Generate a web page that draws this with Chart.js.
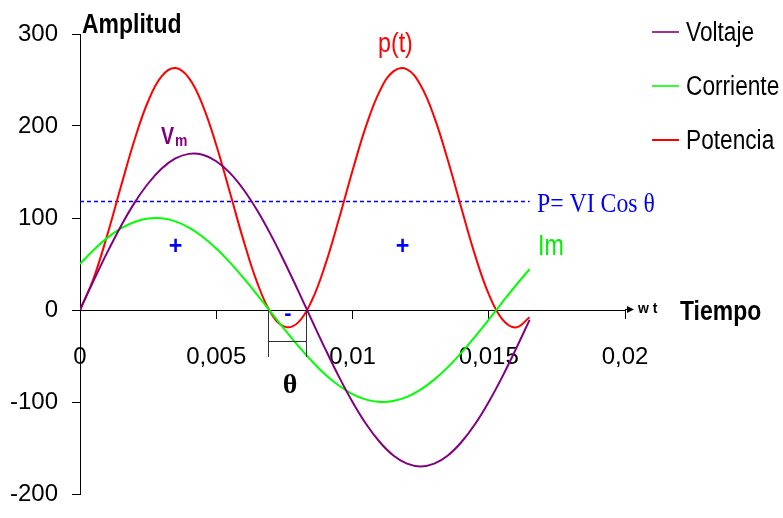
<!DOCTYPE html>
<html lang="es">
<head>
<meta charset="UTF-8">
<title>Voltaje, Corriente y Potencia</title>
<script src="https://cdn.jsdelivr.net/npm/chart.js"></script>
<style>
  html, body { margin: 0; padding: 0; background: #fff; }
  .chart-box { width: 783px; height: 518px; }
</style>
</head>
<body>
<div class="chart-box"><canvas id="ondas" width="783" height="518"></canvas></div>
<script>
// valores (paso de 0,0005 s)
const tiempo = [0, 0.0005, 0.001, 0.0015, 0.002, 0.0025, 0.003, 0.0035, 0.004, 0.0045,
  0.005, 0.0055, 0.006, 0.0065, 0.007, 0.0075, 0.008, 0.0085, 0.009, 0.0095,
  0.01, 0.0105, 0.011, 0.0115, 0.012, 0.0125, 0.013, 0.0135, 0.014, 0.0145,
  0.015, 0.0155, 0.016, 0.0165];
const voltaje = [0, 31.9, 62.6, 91.1, 116.4, 137.5, 153.8, 164.7, 169.7, 168.7,
  161.7, 149.0, 131.0, 108.4, 81.9, 52.5, 21.3, -10.7, -42.3, -72.4,
  -99.9, -123.9, -143.5, -158.1, -167.0, -170, -167.0, -158.1, -143.5, -123.9,
  -99.9, -72.4, -42.3, -10.7];
const corriente = [50, 65.3, 78.4, 88.6, 95.7, 99.5, 99.6, 96.3, 89.6, 79.6,
  66.9, 51.8, 34.9, 16.7, -2.1, -20.8, -38.8, -55.3, -70.0, -82.1,
  -91.4, -97.4, -99.9, -98.9, -94.4, -86.6, -75.7, -62.1, -46.3, -28.9,
  -10.5, 8.4, 26.9, 44.5];
const potencia = [0, 34.5, 81.4, 133.9, 184.8, 226.9, 254.3, 263.1, 252.1, 222.8,
  179.4, 128.0, 75.7, 30.0, -2.9, -18.1, -13.7, 9.8, 49.1, 98.6,
  151.4, 200.1, 237.9, 259.4, 261.6, 244.2, 209.7, 162.8, 110.3, 59.4,
  17.3, -10.1, -18.9, -7.9];
const potenciaMedia = 118;          // P = VI cos θ
const tiempoFinMedia = 0.0165;
const ceroCorriente = 0.0069;       // cruces usados para marcar θ
const ceroVoltaje = 0.0083;

const series = ['Voltaje', 'Corriente', 'Potencia'];
const colores = ['#800080', '#00ff00', '#ff0000'];
const coloresLeyenda = ['#993399', '#33ff33', '#ff0000'];

const xTicks = [0, 0.005, 0.01, 0.015, 0.02];
const xTickLabels = ['0', '0,005', '0,01', '0,015', '0,02'];
const yMin = -200, yMax = 300, yStep = 100;

const SANS = "'Liberation Sans', Arial, sans-serif";
const SERIF = "'Liberation Serif', 'Times New Roman', serif";

function puntos(ys) {
  return tiempo.map((t, i) => ({ x: t, y: ys[i] }));
}

const datasets = [voltaje, corriente, potencia].map((ys, i) => ({
  label: series[i],
  data: puntos(ys),
  borderColor: colores[i],
  borderWidth: 2,
  pointRadius: 0,
  tension: 0.4,
  fill: false
}));

datasets.push({
  label: 'P= VI Cos θ',
  data: [{ x: 0, y: potenciaMedia }, { x: tiempoFinMedia, y: potenciaMedia }],
  borderColor: '#0000ff',
  borderWidth: 1.5,
  borderDash: [4, 3],
  pointRadius: 0,
  tension: 0
});

// leyenda, flecha del eje y textos del dibujo
const extras = {
  id: 'extras',
  afterDraw(chart) {
    const ctx = chart.ctx;
    const sx = chart.scales.x, sy = chart.scales.y;
    const y0 = sy.getPixelForValue(0);
    ctx.save();

    // texto estrecho (el original usa una fuente condensada)
    function texto(t, x, y, font, color, align, escala) {
      ctx.save();
      ctx.translate(x, y);
      ctx.scale(escala || 0.82, 1);
      ctx.font = font;
      ctx.fillStyle = color;
      ctx.textAlign = align || 'left';
      ctx.textBaseline = 'alphabetic';
      ctx.fillText(t, 0, 0);
      ctx.restore();
    }

    // prolongacion del eje x con flecha
    ctx.strokeStyle = '#000';
    ctx.lineWidth = 1;
    ctx.beginPath();
    ctx.moveTo(chart.chartArea.right, y0 - 0.5);
    ctx.lineTo(chart.chartArea.right + 6, y0 - 0.5);
    ctx.stroke();
    ctx.fillStyle = '#000';
    ctx.beginPath();
    ctx.moveTo(chart.chartArea.right + 9, y0 - 0.5);
    ctx.lineTo(chart.chartArea.right + 2, y0 - 4);
    ctx.lineTo(chart.chartArea.right + 2, y0 + 3);
    ctx.closePath();
    ctx.fill();

    // leyenda
    series.forEach((s, i) => {
      const ly = 32 + i * 54;
      ctx.strokeStyle = coloresLeyenda[i];
      ctx.lineWidth = 2;
      ctx.beginPath();
      ctx.moveTo(652, ly);
      ctx.lineTo(679, ly);
      ctx.stroke();
      texto(s, 686, ly + 9, '27px ' + SANS, '#000', 'left', 0.84);
    });

    texto('Amplitud', 82, 33, 'bold 28px ' + SANS, '#000');
    texto('Tiempo', 680, 320, 'bold 27px ' + SANS, '#000', 'left', 0.85);
    texto('w t', 638, 313, 'bold 14px ' + SANS, '#000', 'left', 1);
    texto('p(t)', 378, 52, '28px ' + SANS, '#ff0000', 'left', 0.83);
    texto('V', 161, 144, 'bold 24px ' + SANS, '#800080');
    texto('m', 175, 146, 'bold 17px ' + SANS, '#800080');
    texto('Im', 538, 255, '29px ' + SANS, '#00ee00', 'left', 0.8);
    texto('+', 175.5, 254, 'bold 26px ' + SANS, '#0000ff', 'center', 0.9);
    texto('+', 402.5, 254, 'bold 26px ' + SANS, '#0000ff', 'center', 0.9);
    texto('-', 288, 320, 'bold 22px ' + SANS, '#0000ff', 'center', 1);
    texto('θ', 290, 393, 'bold 28px ' + SERIF, '#000', 'center', 1);
    texto('P= VI Cos θ', 537, 212, '27px ' + SERIF, '#0000ff', 'left', 0.88);

    // corchete del angulo θ
    const xa = Math.round(sx.getPixelForValue(ceroCorriente)) + 0.5;
    const xb = Math.round(sx.getPixelForValue(ceroVoltaje)) + 0.5;
    ctx.strokeStyle = '#333';
    ctx.lineWidth = 1;
    ctx.beginPath();
    ctx.moveTo(xa, y0);
    ctx.lineTo(xa, y0 + 47);
    ctx.moveTo(xb, y0);
    ctx.lineTo(xb, y0 + 47);
    ctx.moveTo(xa, y0 + 31.5);
    ctx.lineTo(xb, y0 + 31.5);
    ctx.stroke();

    ctx.restore();
  }
};

new Chart(document.getElementById('ondas'), {
  type: 'line',
  data: { datasets: datasets },
  options: {
    responsive: false,
    animation: false,
    devicePixelRatio: 1,
    layout: { padding: { left: 0, top: 34, right: 158, bottom: 24 } },
    plugins: {
      legend: { display: false },
      tooltip: { enabled: false }
    },
    scales: {
      x: {
        type: 'linear',
        min: 0,
        max: 0.02,
        position: { y: 0 },
        afterFit(scale) { scale.height = 0; },
        afterBuildTicks(scale) { scale.ticks = xTicks.map(v => ({ value: v })); },
        grid: { drawOnChartArea: false, tickLength: 8, color: '#000' },
        border: { color: '#000', width: 1 },
        ticks: {
          padding: 25,
          color: '#000',
          font: { family: SANS, size: 24 },
          maxRotation: 0,
          callback: (v) => xTickLabels[xTicks.indexOf(v)]
        }
      },
      y: {
        min: yMin,
        max: yMax,
        position: 'left',
        afterFit(scale) {
          scale.width = 80;
          scale.paddingTop = 0;
          scale.paddingBottom = 0;
        },
        grid: { drawOnChartArea: false, tickLength: 8, color: '#000' },
        border: { color: '#000', width: 1 },
        ticks: {
          stepSize: yStep,
          padding: 14,
          color: '#000',
          font: { family: SANS, size: 24 }
        }
      }
    }
  },
  plugins: [extras]
});
</script>
</body>
</html>
